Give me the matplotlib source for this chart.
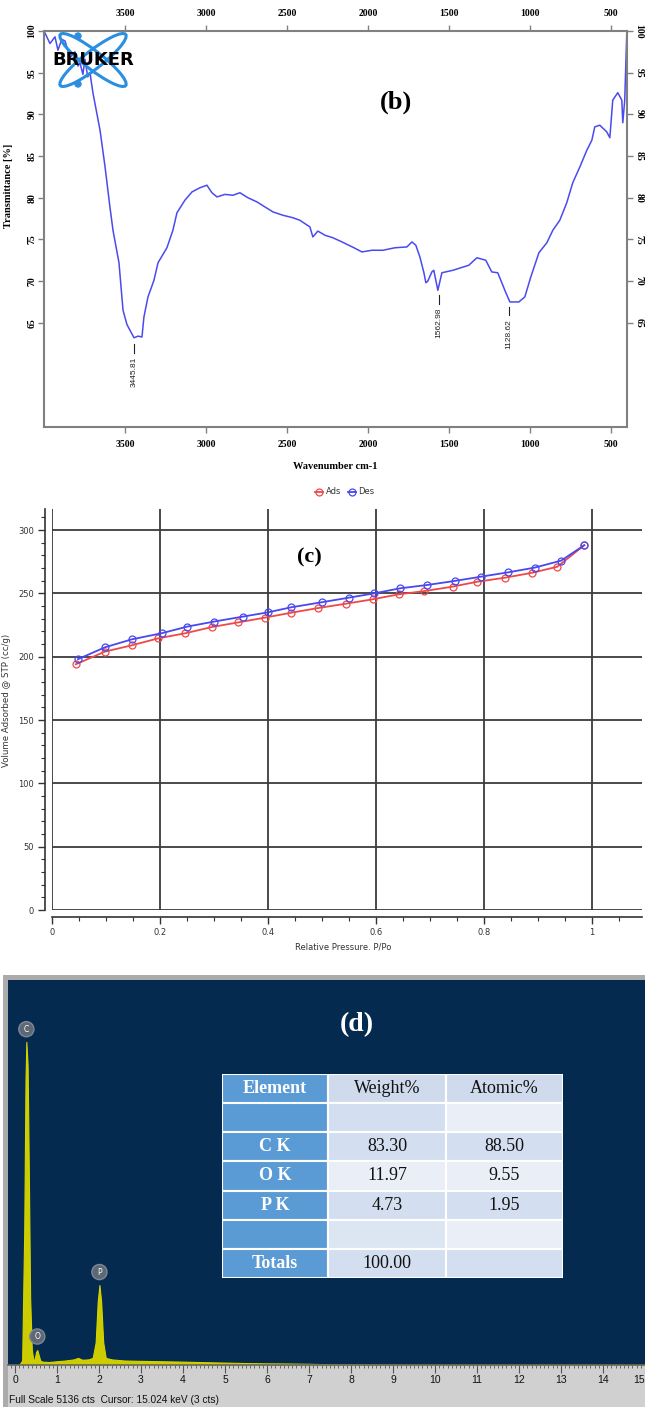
import matplotlib.pyplot as plt
from matplotlib.patches import Ellipse, Rectangle, Circle
from matplotlib.ticker import MultipleLocator, FuncFormatter

# (b) FTIR spectrum
wavenumber = [4000, 3963, 3932, 3914, 3890, 3870, 3840, 3809, 3790, 3778, 3760, 3747,
              3730, 3716, 3698, 3654, 3623, 3593, 3574, 3537, 3512, 3488, 3469, 3444,
              3420, 3395, 3383, 3358, 3321, 3296, 3241, 3204, 3179, 3130, 3086, 3037,
              2994, 2963, 2932, 2883, 2833, 2790, 2741, 2685, 2636, 2586, 2525, 2463,
              2420, 2358, 2340, 2309, 2265, 2216, 2160, 2086, 2037, 1975, 1907, 1833,
              1759, 1728, 1704, 1679, 1654, 1642, 1630, 1605, 1593, 1568, 1543, 1475,
              1377, 1327, 1272, 1235, 1198, 1148, 1123, 1068, 1031, 994, 944, 895,
              858, 815, 772, 735, 691, 648, 617, 599, 568, 525, 506, 488, 457, 432,
              426, 414, 401]
transmittance = [100.0, 98.5, 99.3, 97.7, 99.0, 98.8, 96.8, 97.5, 95.8, 96.2, 94.8, 96.6,
                 94.5, 95.0, 92.6, 88.1, 83.7, 78.9, 76.1, 72.2, 66.5, 64.8, 64.1, 63.2,
                 63.4, 63.3, 65.7, 68.1, 70.1, 72.2, 74.0, 76.1, 78.2, 79.7, 80.7, 81.2,
                 81.5, 80.6, 80.1, 80.4, 80.3, 80.6, 80.0, 79.5, 78.9, 78.3, 77.9, 77.6,
                 77.3, 76.5, 75.3, 76.0, 75.5, 75.2, 74.7, 74.0, 73.5, 73.7, 73.7, 74.0,
                 74.1, 74.7, 74.3, 72.9, 71.0, 69.8, 70.0, 71.1, 71.3, 68.9, 71.0, 71.3,
                 71.9, 72.8, 72.5, 71.1, 71.0, 68.6, 67.5, 67.5, 68.1, 70.5, 73.4, 74.6,
                 76.1, 77.3, 79.4, 81.8, 83.7, 85.7, 86.9, 88.5, 88.7, 87.9, 87.2, 91.7,
                 92.6, 91.7, 89.0, 91.7, 100.0]
peak_wn = [3445.81, 1562.98, 1128.62]
peak_mark_y = [62.4, 68.3, 66.9]

# (c) N2 adsorption / desorption isotherm
p_ads = [0.044, 0.098, 0.148, 0.197, 0.247, 0.296, 0.344, 0.394, 0.443, 0.493,
         0.544, 0.594, 0.642, 0.690, 0.742, 0.788, 0.840, 0.890, 0.936, 0.986]
v_ads = [194.0, 204.0, 209.0, 214.5, 218.5, 223.4, 227.0, 230.8, 234.7, 238.4,
         241.8, 245.3, 249.2, 251.8, 255.3, 259.2, 262.4, 266.3, 271.0, 288.0]
p_des = [0.048, 0.098, 0.148, 0.203, 0.250, 0.300, 0.353, 0.400, 0.443, 0.500,
         0.550, 0.597, 0.645, 0.695, 0.746, 0.795, 0.845, 0.894, 0.943, 0.986]
v_des = [198.0, 207.4, 213.7, 218.5, 223.7, 227.7, 231.6, 235.0, 239.0, 243.0,
         246.6, 250.0, 254.0, 256.6, 259.8, 263.2, 266.6, 270.3, 275.8, 288.0]

# (d) EDS spectrum and quantification table
energy_kev = [0.0, 0.10, 0.17, 0.22, 0.25, 0.27, 0.30, 0.33, 0.36, 0.40, 0.44, 0.47,
              0.50, 0.53, 0.56, 0.60, 0.65, 0.80, 1.00, 1.20, 1.40, 1.50, 1.60, 1.75,
              1.85, 1.92, 1.97, 2.01, 2.05, 2.10, 2.16, 2.30, 2.60, 3.00, 3.50, 4.00,
              4.50, 5.00, 5.50, 6.00, 6.50, 7.00, 7.50, 8.00, 9.00, 10.0, 15.0]
counts = [0, 0, 60, 1800, 3800, 4310, 4000, 2500, 900, 200, 60, 80,
          170, 200, 140, 60, 45, 40, 50, 60, 75, 95, 70, 75,
          95, 300, 850, 1067, 850, 300, 95, 75, 60, 55, 50, 45,
          38, 32, 26, 22, 20, 16, 10, 8, 5, 2, 0]
full_scale = 5136
eds_elements = ['C', 'O', 'P']
eds_label_kev = [0.27, 0.53, 2.01]
eds_label_cts = [4480, 380, 1240]

table_header = ['Element', 'Weight%', 'Atomic%']
table_element = ['', 'C K', 'O K', 'P K', '', 'Totals']
table_weight = ['', '83.30', '11.97', '4.73', '', '100.00']
table_atomic = ['', '88.50', '9.55', '1.95', '', '']

W, H = 645, 1407


def box(x0, y0, x1, y1):
    # pixel box, top-left origin -> figure rect
    return [x0 / W, 1 - y1 / H, (x1 - x0) / W, (y1 - y0) / H]


def fx(x):
    return x / W


def fy(y):
    return 1 - y / H


fig = plt.figure(figsize=(W / 100, H / 100), dpi=100)

# ---------------- (b) FTIR ----------------
serif = 'Liberation Serif'
ax = fig.add_axes(box(44, 31, 627, 427))
ax.plot(wavenumber, transmittance, color='#4a4af0', lw=1.1)
ax.set_xlim(4000, 400)
ax.set_ylim(52.5, 100)
ax.set_xticks([3500, 3000, 2500, 2000, 1500, 1000, 500])
ax.set_yticks([65, 70, 75, 80, 85, 90, 95, 100])
for s in ax.spines.values():
    s.set_color('#808080')
    s.set_linewidth(1.5)
ax.tick_params(axis='both', direction='out', length=4, width=1, color='#808080',
               top=True, right=True, labeltop=True, labelright=True, labelsize=7)
ax.tick_params(axis='x', pad=5)
ax.tick_params(axis='y', pad=1.5)
for lab in ax.get_xticklabels() + ax.get_yticklabels():
    lab.set_family(serif)
    lab.set_weight('bold')
for lab in ax.yaxis.get_ticklabels():
    lab.set_rotation(90)
    lab.set_va('center')
for t in ax.yaxis.get_major_ticks():
    t.label2.set_rotation(270)
    t.label2.set_va('center')
    t.label2.set_family(serif)
    t.label2.set_weight('bold')
for t in ax.xaxis.get_major_ticks():
    t.label2.set_family(serif)
    t.label2.set_weight('bold')
ax.set_xlabel('Wavenumber cm-1', family=serif, weight='bold', size=7.5)
ax.xaxis.set_label_coords(0.5, -0.088)
ax.set_ylabel('Transmittance [%]', family=serif, weight='bold', size=7.5)
ax.yaxis.set_label_coords(-0.053, 0.61)

for wn, y in zip(peak_wn, peak_mark_y):
    ax.plot([wn, wn], [y, y - 1.0], color='#222222', lw=0.8)
    ax.text(wn, y - 1.5, f'{wn:.2f}', rotation=90, ha='center', va='top',
            family='Liberation Sans', size=6, color='#222222')

fig.text(fx(396), fy(102), '(b)', ha='center', va='center', family=serif,
         weight='bold', size=19)

# BRUKER logo
logo = fig.add_axes(box(44, 26, 144, 94))
logo.set_xlim(44, 144)
logo.set_ylim(94, 26)
logo.axis('off')
logo.patch.set_alpha(0)
for ang in (38, -38):
    logo.add_patch(Ellipse((93, 60), 83, 18, angle=ang, fill=False,
                           ec='#2b8fe0', lw=2.2))
for cy in (36, 84):
    logo.add_patch(Circle((78, cy), 3, color='#2b8fe0'))
logo.text(93, 60, 'BRUKER', ha='center', va='center', family='DejaVu Sans',
          weight='heavy', size=13, color='black')

# ---------------- (c) isotherm ----------------
dejavu = 'DejaVu Sans'
axc = fig.add_axes(box(52, 508.5, 642, 910))
axc.plot(p_ads, v_ads, color='#f04848', lw=1.3, marker='o', ms=5, mfc='none',
         mew=0.9, label='Ads', zorder=3)
axc.plot(p_des, v_des, color='#4848f0', lw=1.3, marker='o', ms=5, mfc='none',
         mew=0.9, label='Des', zorder=3)
axc.set_xlim(0, 1.093)
axc.set_ylim(0, 317)
axc.xaxis.set_major_locator(MultipleLocator(0.2))
axc.xaxis.set_minor_locator(MultipleLocator(0.05))
axc.yaxis.set_major_locator(MultipleLocator(50))
axc.yaxis.set_minor_locator(MultipleLocator(10))
axc.xaxis.set_major_formatter(FuncFormatter(lambda v, p: f'{v:g}'))
axc.grid(True, which='major', color='#3c3c3c', lw=1.3)
axc.set_axisbelow(True)
for side in ('top', 'right'):
    axc.spines[side].set_visible(False)
for side in ('left', 'bottom'):
    axc.spines[side].set_position(('outward', 5))
    axc.spines[side].set_color('#333333')
    axc.spines[side].set_linewidth(1.2)
axc.tick_params(which='major', length=5, width=1, color='#333333',
                labelsize=6, labelcolor='#333333', pad=3)
axc.tick_params(which='minor', length=3, width=0.8, color='#333333')
for lab in axc.get_xticklabels() + axc.get_yticklabels():
    lab.set_family(dejavu)
axc.set_xlabel('Relative Pressure. P/Po', family=dejavu, size=6, color='#333333')
axc.xaxis.set_label_coords((343 - 52) / 590, -(943 - 910) / 401.5)
axc.set_ylabel('Volume Adsorbed @ STP (cc/g)', family=dejavu, size=6.2,
               color='#333333')
axc.yaxis.set_label_coords(-(52 - 11) / 590, (910 - 700) / 401.5)
axc.legend(loc='center', bbox_to_anchor=(fx(345), fy(492)),
           bbox_transform=fig.transFigure, ncol=2, frameon=False,
           prop={'family': dejavu, 'size': 6}, handlelength=0.9,
           handletextpad=0.3, columnspacing=0.9, labelcolor='#333333')
fig.text(fx(309), fy(557), '(c)', ha='center', va='center', family=serif,
         weight='bold', size=16)


# ---------------- (d) EDS ----------------
def plain_box(rect, color):
    a = fig.add_axes(rect)
    a.set_facecolor(color)
    a.set_xticks([])
    a.set_yticks([])
    for s in a.spines.values():
        s.set_visible(False)
    return a


plain_box(box(3, 975, 645, 1407), '#ababab')
plain_box(box(8, 1365, 645, 1407), '#d0d0d0')

axd = fig.add_axes(box(8, 980, 645, 1365))
axd.set_facecolor('#052a50')
axd.fill_between(energy_kev, counts, color='#cccc00', lw=0.8, edgecolor='#d4d400')
axd.set_xlim(-0.167, 15.0)
axd.set_ylim(0, full_scale)
axd.set_yticks([])
axd.set_xticks(range(0, 16))
axd.xaxis.set_minor_locator(MultipleLocator(0.1))
for side in ('top', 'right', 'left'):
    axd.spines[side].set_visible(False)
axd.spines['bottom'].set_color('#666666')
axd.spines['bottom'].set_linewidth(1.2)
axd.tick_params(axis='x', which='major', length=6, width=0.8, color='#555555',
                labelsize=7.5, pad=1.5, labelcolor='#111111')
axd.tick_params(axis='x', which='minor', length=2.5, width=0.6, color='#555555')
for lab in axd.get_xticklabels():
    lab.set_family('Liberation Sans')
# keep the last label (15) inside the figure
axd.xaxis.get_major_ticks()[-1].label1.set_horizontalalignment('right')
for el, e, c in zip(eds_elements, eds_label_kev, eds_label_cts):
    axd.text(e, c, el, ha='center', va='center', color='white', size=5.5,
             family=dejavu,
             bbox=dict(boxstyle='circle,pad=0.4', fc='#5d6874', ec='#7d8894', lw=1))

fig.text(fx(9), fy(1400), 'Full Scale 5136 cts  Cursor: 15.024 keV (3 cts)',
         ha='left', va='center', family='Liberation Sans', size=7.3, color='#111111')
fig.text(fx(357), fy(1025), '(d)', ha='center', va='center', family=serif,
         weight='bold', size=20, color='white')

# quantification table
tab = fig.add_axes(box(222, 1074, 563, 1278))
tab.set_xlim(0, 341)
tab.set_ylim(204, 0)
tab.axis('off')
col_w = [106, 118, 117]
row_h = 204 / 7
rows = [table_header] + [[e, w, a] for e, w, a in
                         zip(table_element, table_weight, table_atomic)]
fill_w = ['#cfdbed', '#d3dff0', '#d3dff0', '#e9eef7', '#d3dff0', '#dce5f2', '#d3dff0']
fill_a = ['#cfdbed', '#e9eef7', '#d3dff0', '#e9eef7', '#d3dff0', '#e9eef7', '#d3dff0']
for r, row in enumerate(rows):
    x0 = 0
    for c, txt in enumerate(row):
        fc = '#5b9bd5' if c == 0 else (fill_w[r] if c == 1 else fill_a[r])
        tab.add_patch(Rectangle((x0, r * row_h), col_w[c], row_h, fc=fc,
                                ec='white', lw=1.5))
        if txt:
            tab.text(x0 + col_w[c] / 2, (r + 0.5) * row_h, txt, ha='center',
                     va='center', family=serif, size=13,
                     weight='bold' if c == 0 else 'normal',
                     color='white' if c == 0 else '#111111')
        x0 += col_w[c]

fig.savefig('out.png', dpi=100)
